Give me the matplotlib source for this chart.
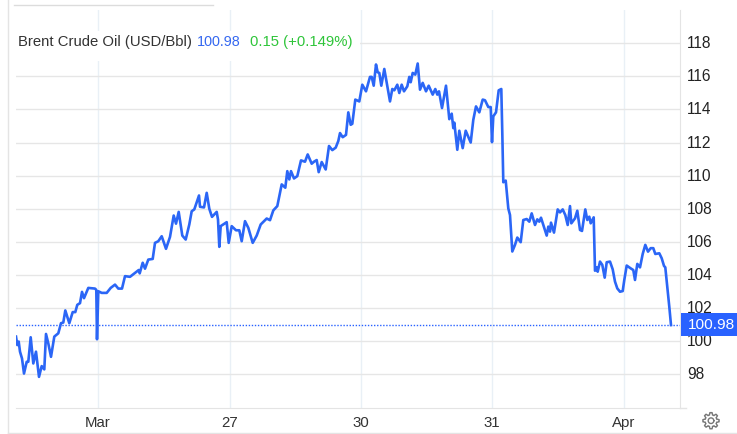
import numpy as np
import matplotlib
matplotlib.use('Agg')
import matplotlib.pyplot as plt
from matplotlib.lines import Line2D
from matplotlib.patches import Rectangle, Polygon
from matplotlib.transforms import ScaledTranslation

plt.rcParams['font.family'] = ['Liberation Sans', 'DejaVu Sans']

# horizontal scale is in chart slots, one slot per pixel column of the plot
slots = [16, 17.3, 18.7, 20, 22, 24, 26.7, 28.3, 30.7, 33.3, 36, 39, 41.7, 44.3, 46, 48.3, 51, 54.3, 58.3, 61,
         63.3, 65.3, 69.3, 72.7, 75.3, 77.3, 80, 82, 84, 88.3, 95, 96.3, 97, 98.3, 101.7, 106.7, 110.7, 115, 118.3, 122,
         125, 130, 135, 138.7, 139.7, 142.7, 145, 148.3, 152.7, 155, 158.3, 161.7, 166, 170, 173.7, 176, 178.7, 182.3, 185.7, 189.3,
         191.7, 194.3, 199, 200, 204, 206.7, 209.3, 212, 216.7, 218, 219.3, 220.7, 226.7, 228.7, 231.7, 236, 239.3, 241.7, 245, 248.3,
         252.7, 256.7, 260.7, 266.7, 270, 273.3, 277.3, 281.7, 285.3, 287.3, 289.3, 291, 294, 297.3, 301, 305, 307.7, 311.7, 314, 316.7,
         318.7, 321.7, 325.7, 329, 332.3, 335.7, 338.3, 340, 342.7, 346, 348.3, 350.7, 352.3, 355.3, 359.3, 362.3, 366, 370, 371.7, 373.7,
         376, 377.7, 379.3, 381.3, 384.3, 387.7, 390, 392.3, 394.3, 397.3, 399.3, 401.7, 404, 407.3, 409.3, 410.7, 412.7, 415.3, 417.7, 420,
         422.7, 426, 428.7, 432.7, 435.3, 437.3, 439, 442, 446, 449.3, 451.7, 453.3, 454.3, 457.3, 459.3, 462.7, 465.7, 470.7, 473.3, 476,
         479.3, 482.7, 485, 488.3, 490.7, 492, 493.3, 496, 498.7, 501.3, 502.3, 503.3, 505.7, 508.3, 510, 512.3, 515, 517.3, 520.7, 523.3,
         526.7, 529.3, 531.7, 535, 537.3, 539.3, 541, 543.3, 546.7, 548.3, 550, 551, 554, 557.7, 560, 562.7, 565.3, 567.7, 570, 571.3,
         575, 577.3, 580, 582, 585.3, 587.3, 589.3, 590.7, 593.7, 595, 596.7, 597.7, 600, 602.3, 604.7, 606.7, 610, 612.7, 615, 617.3,
         620, 622.7, 624.3, 626.7, 630.7, 633.3, 635, 637.3, 640, 642.7, 645.3, 648, 650.7, 653.3, 655.3, 659.3, 661.7, 664, 665.3, 667.3,
         669.3, 671]
prices = [100.28, 99.77, 99.98, 99.37, 98.96, 98.05, 98.76, 98.76, 100.24, 98.66, 99.37, 97.85, 98.5, 98.3, 100.44, 99.87, 99.06, 100.28, 100.48, 101.09,
          101.13, 101.86, 101.09, 101.76, 101.76, 102.2, 102.3, 102.98, 102.6, 103.22, 103.18, 103.1, 100.12, 103.02, 102.92, 102.92, 103.22, 103.42, 103.18, 103.18,
          103.93, 103.89, 104.13, 104.3, 104.1, 104.74, 104.38, 104.93, 104.97, 105.94, 106.04, 106.34, 105.58, 106.3, 107.59, 107.1, 107.81, 106.38, 106.14, 107.05,
          107.85, 107.96, 108.8, 108.12, 108.08, 108.96, 108.0, 107.51, 107.81, 107.35, 105.7, 106.95, 107.19, 105.94, 106.95, 106.7, 106.7, 106.04, 107.25, 106.85,
          105.94, 106.38, 107.05, 107.41, 107.31, 107.9, 108.16, 109.47, 109.27, 110.27, 109.77, 110.27, 109.83, 109.97, 110.92, 110.84, 111.28, 110.72, 110.84, 110.94,
          110.21, 110.82, 110.37, 111.79, 111.54, 111.69, 112.09, 112.57, 112.32, 112.46, 113.82, 113.07, 113.13, 114.59, 114.48, 115.49, 115.09, 115.96, 115.96, 115.43,
          116.71, 116.24, 116.2, 115.43, 116.44, 115.29, 114.48, 115.23, 115.15, 115.49, 114.99, 115.49, 115.09, 115.39, 115.96, 115.64, 116.2, 116.1, 116.77, 115.19,
          115.6, 115.09, 115.43, 114.89, 115.23, 114.89, 115.09, 114.08, 115.43, 113.41, 113.74, 112.87, 113.2, 111.56, 112.71, 111.66, 112.71, 112.0, 113.37, 114.18,
          113.82, 114.59, 114.55, 114.14, 114.14, 112.02, 113.58, 113.82, 115.15, 115.23, 112.57, 109.6, 109.7, 108.02, 107.62, 105.42, 105.82, 106.26, 105.98, 107.32,
          107.38, 107.22, 107.72, 107.02, 107.36, 107.22, 107.46, 107.02, 106.38, 106.92, 106.62, 107.16, 106.56, 107.96, 107.78, 107.96, 107.62, 107.02, 108.16, 107.12,
          107.42, 107.88, 106.72, 106.66, 107.96, 107.32, 107.52, 107.12, 107.48, 104.26, 104.46, 104.2, 104.81, 104.61, 103.84, 104.77, 104.81, 104.34, 103.6, 103.19,
          102.99, 103.03, 103.7, 104.57, 104.4, 104.3, 103.7, 104.67, 104.46, 105.27, 105.82, 105.41, 105.62, 105.62, 105.27, 105.31, 105.01, 104.55, 104.46, 103.29,
          102.08, 100.98]

month_slots = [98, 230, 361, 492, 624]
month_labels = ['Mar', '27', '30', '31', 'Apr']
price_ticks = [98, 100, 102, 104, 106, 108, 110, 112, 114, 116, 118]
last_price = 100.98

W, H = 737, 434
blue = '#2962ff'
fig = plt.figure(figsize=(W / 100, H / 100), dpi=100, facecolor='white')
ax = fig.add_axes([16 / W, 1 - 407.5 / H, 664 / W, 397.5 / H])
ax.set_xlim(16, 680)
ax.set_ylim(96, 120)


def outer_line(x0, y0, x1, y1, color='#e4e4e4'):
    fig.add_artist(Line2D([x0 / W, x1 / W], [1 - y0 / H, 1 - y1 / H], color=color, lw=1, transform=fig.transFigure))


# frame pieces around the widget
outer_line(7.5, 0, 7.5, 433)
outer_line(7.5, 432.7, 737, 432.7)
outer_line(14, 5, 213, 5, '#dcdcdc')
outer_line(680, 407.5, 686, 407.5)

for s in ['top', 'left']:
    ax.spines[s].set_visible(False)
ax.spines['right'].set_color('#e4e4e4')
ax.spines['bottom'].set_color('#e4e4e4')
ax.set_axisbelow(True)
ax.grid(axis='y', color='#e6e6e6', lw=1)
ax.grid(axis='x', color='#e9f0f6', lw=1)

ax.set_xticks(month_slots)
ax.set_xticklabels(month_labels)
ax.yaxis.tick_right()
ax.set_yticks(price_ticks)
ax.tick_params(axis='x', length=0, pad=6, labelsize=10.8, labelcolor='#333333')
ax.tick_params(axis='y', length=0, pad=5, labelsize=11.2, labelcolor='#222222')
# price labels sit a pixel above their grid lines
up = ScaledTranslation(0, 0.7 / 72, fig.dpi_scale_trans)
for lab in ax.get_yticklabels():
    lab.set_transform(lab.get_transform() + up)

ax.axhline(last_price, color=blue, lw=1, ls=(0, (1, 1.2)), zorder=2)
ax.plot(slots, prices, color='#2b66f6', lw=1.9, solid_joinstyle='round', zorder=3)

# white panel behind the header text hides the grid
ax.add_patch(Rectangle((16, 116.9), 344, 1.85, facecolor='white', edgecolor='none', zorder=4))
ax.text(18, 118.05, 'Brent Crude Oil (USD/Bbl)', fontsize=10.7, color='#333333', va='center', zorder=5)
ax.text(197, 118.05, '100.98', fontsize=10.4, color='#3568f0', va='center', zorder=5)
ax.text(250.5, 118.05, '0.15 (+0.149%)', fontsize=10.7, color='#2fc53a', va='center', zorder=5)

# last price tag on the axis
tr = ax.get_yaxis_transform()
ax.add_patch(Rectangle((1 + 1 / 664, last_price - 0.68), 56 / 664, 1.39, transform=tr, facecolor=blue,
                       edgecolor='none', clip_on=False, zorder=6))
ax.text(1 + 8 / 664, last_price, '100.98', transform=tr, color='white', fontsize=11.1, va='center', ha='left', zorder=7)

# settings gear
ang = np.linspace(0, 2 * np.pi, 97)
rad = 7 + 1.1 * np.clip(3 * np.cos(8 * ang), -1, 1)
gear = np.column_stack([(711 + rad * np.cos(ang)) / W, 1 - (420.7 + rad * np.sin(ang)) / H])
fig.add_artist(Polygon(gear, closed=True, facecolor='none', edgecolor='#777777', lw=1, transform=fig.transFigure))
ang2 = np.linspace(0, 2 * np.pi, 30)
fig.add_artist(Line2D((711 + 2.8 * np.cos(ang2)) / W, 1 - (420.7 + 2.8 * np.sin(ang2)) / H, color='#777777', lw=1,
                      transform=fig.transFigure))

fig.savefig('out.png', dpi=100)
